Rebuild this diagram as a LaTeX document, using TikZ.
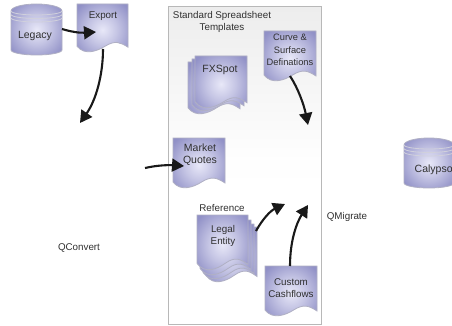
\documentclass[tikz,border=0pt]{standalone}
\usepackage{fontspec}
\setmainfont{Liberation Sans}
\usetikzlibrary{arrows.meta}
\definecolor{shedge}{HTML}{B0B0C4}
\definecolor{shout}{HTML}{8C8CC4}
\definecolor{shin}{HTML}{E8E8F8}
\definecolor{txt}{HTML}{303030}
\definecolor{panelline}{HTML}{B8B8B8}
\definecolor{panelfill}{HTML}{EDEDED}
\pgfdeclareradialshading{soft}{\pgfpoint{0bp}{0bp}}{%
  color(0bp)=(shin); color(14bp)=(shin!62!shout); color(32bp)=(shout!94!shin); color(50bp)=(shout)}
\tikzset{
  lbl/.style={font=\fontsize{9.8}{11.6}\selectfont,text=txt,align=center,inner sep=0pt},
  lblbig/.style={lbl,font=\fontsize{10.5}{12}\selectfont},
  lblsmall/.style={lbl,font=\fontsize{9.3}{12.5}\selectfont},
  flow/.style={line width=2.1pt,draw=black!90,-{Triangle[length=12pt,width=13pt]}},
  sheet/.style={draw=shedge,line width=0.8pt,shading=soft}
}
% x, y, w, h
\newcommand{\docshape}[4]{%
  \path[sheet] (#1,#2) -- (#1+#3,#2) -- (#1+#3,#2+0.9*#4)
    .. controls (#1+0.85*#3,#2+0.8*#4) and (#1+0.75*#3,#2+0.75*#4) .. (#1+0.55*#3,#2+0.88*#4)
    .. controls (#1+0.4*#3,#2+0.98*#4) and (#1+0.15*#3,#2+1.08*#4) .. (#1,#2+0.88*#4) -- cycle;}
\newcommand{\cylshape}[4]{%
  \path[sheet] (#1,#2+7) arc[start angle=180,end angle=360,x radius=#3/2,y radius=7]
    -- (#1+#3,#2+#4-5) arc[start angle=0,end angle=180,x radius=#3/2,y radius=5] -- cycle;
  \foreach \d in {7,10.5,14}{
    \draw[shedge!60!white,line width=0.8pt] (#1,#2+\d) arc[start angle=180,end angle=0,x radius=#3/2,y radius=4];}}
\begin{document}
\begin{tikzpicture}[x=1pt,y=-1pt]
\useasboundingbox (0,0) rectangle (452,326);
% panel
\path[top color=panelfill,bottom color=white,middle color=white!97!panelfill] (168,7) rectangle (321,324);
\draw[panelline,line width=1pt] (168,7) rectangle (321,324);
% shapes
\cylshape{11}{4}{51}{51}
\docshape{77}{4}{51}{48}
\cylshape{404}{138}{50}{50}
\docshape{188}{62}{52}{52}
\docshape{192}{59}{52}{52}
\docshape{195}{56}{52}{52}
\docshape{264}{31}{52}{50}
\docshape{173}{138}{52}{50}
\docshape{206}{227}{51}{55}
\docshape{203}{224}{51}{55}
\docshape{200}{220}{51}{55}
\docshape{197}{215}{51}{55}
\docshape{265}{266}{52}{50}
% texts
\node[lblbig] (legacy) at (35,36) {Legacy};
\node[lbl] (export) at (103,16) {Export};
\node[lbl,font=\fontsize{9.8}{12}\selectfont] (title) at (222,22) {Standard Spreadsheet\\Templates};
\node[lblbig] (fxspot) at (220,70) {FXSpot};
\node[lblsmall] (curve) at (290,50) {Curve \&\\Surface\\Definations};
\node[lblbig] (market) at (200,155) {Market\\Quotes};
\node[lbl] (reference) at (222,208) {Reference};
\node[lbl] (legal) at (223,236) {Legal\\Entity};
\node[lbl] (custom) at (291,288) {Custom\\Cashflows};
\node[lblbig,anchor=west] (calypso) at (414.5,170) {Calypso};
\node[lbl] (qconvert) at (79,248) {QConvert};
\node[lbl] (qmigrate) at (347,217) {QMigrate};
% connector anchors
\coordinate (legacyR) at (62,29);
\coordinate (exportC) at (96,32);
\coordinate (exportB) at (103,49);
\coordinate (convertIn) at (80,123);
\coordinate (curveB) at (290,76);
\coordinate (migrateA) at (308,125);
\coordinate (quotesIn) at (145,168);
\coordinate (quotesC) at (184,166);
\coordinate (legalR) at (256,231);
\coordinate (migrateB) at (285,204);
\coordinate (customT) at (290,266);
\coordinate (migrateC) at (308,205);
% connectors
\draw[flow] (legacyR) .. controls (72,32) and (80,33) .. (exportC);
\draw[flow] (exportB) .. controls (103,75) and (96,100) .. (convertIn);
\draw[flow] (curveB) .. controls (298,88) and (304,105) .. (migrateA);
\draw[flow] (quotesIn) .. controls (158,165) and (170,165) .. (quotesC);
\draw[flow] (legalR) .. controls (262,220) and (270,211) .. (migrateB);
\draw[flow] (customT) .. controls (290,240) and (297,222) .. (migrateC);
\end{tikzpicture}
\end{document}
